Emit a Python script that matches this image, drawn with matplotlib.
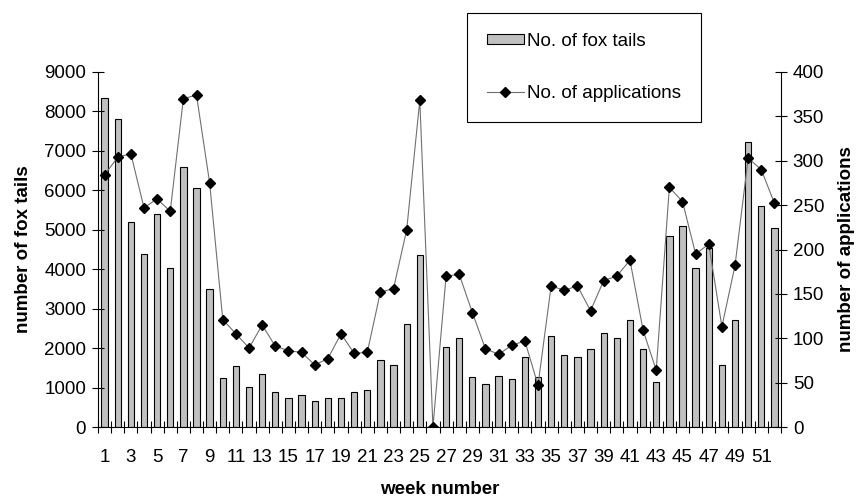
import numpy as np
import matplotlib
matplotlib.use("Agg")
import matplotlib.pyplot as plt
from matplotlib.ticker import FixedLocator, NullFormatter

# ============================================================
# Data
# ============================================================

weeks = np.arange(1, 53)

fox_tails = [
    8330, 7800, 5190, 4390, 5390, 4020, 6600, 6050, 3500, 1250,
    1545, 1010, 1335, 887, 735, 810, 660, 726, 726, 887,
    929, 1690, 1571, 2618, 4358, 0, 2019, 2264, 1258, 1090,
    1292, 1208, 1774, 1258, 2297, 1816, 1774, 1968, 2373, 2264,
    2711, 1968, 1132, 4840, 5084, 4029, 4527, 1571, 2711, 7213,
    5591, 5034,
]

applications = [
    284, 304, 308, 247, 257, 243, 370, 374, 275, 121,
    105, 89, 115, 91, 86, 84, 70, 77, 105, 83,
    84, 152, 156, 222, 368, 0, 170, 172, 129, 88,
    82, 92, 97, 47, 159, 154, 159, 131, 165, 170,
    188, 109, 64, 270, 254, 195, 206, 113, 182, 303,
    290, 252,
]

tick_labels = [str(w) for w in weeks if w % 2 == 1]

# ============================================================
# Style
# ============================================================

plt.rcParams['font.family'] = ['Liberation Sans', 'DejaVu Sans']
FS = 13.5

fig = plt.figure(figsize=(8.57, 5.0), dpi=100)
ax = fig.add_axes([98/857, 73/500, 683/857, 355/500])
ax2 = ax.twinx()

idx = np.arange(len(weeks))

bars = ax.bar(
    idx,
    fox_tails,
    width=0.48,
    color='#c0c0c0',
    edgecolor='black',
    linewidth=0.8,
    label='No. of fox tails'
)

line, = ax2.plot(
    idx,
    applications,
    color='#707070',
    lw=0.8,
    marker='D',
    markersize=5.2,
    markerfacecolor='black',
    markeredgecolor='black',
    label='No. of applications'
)

# ============================================================
# Axes
# ============================================================

ax.set_xlim(-0.5, len(weeks) - 0.5)
ax.set_ylim(0, 9000)
ax2.set_ylim(0, 400)

ax.set_yticks(np.arange(0, 9001, 1000))
ax2.set_yticks(np.arange(0, 401, 50))

odd_pos = [i for i, w in enumerate(weeks) if w % 2 == 1]
ax.set_xticks(odd_pos)
ax.set_xticklabels(tick_labels)
ax.xaxis.set_minor_locator(FixedLocator(np.arange(-0.5, len(weeks), 1.0)))
ax.xaxis.set_minor_formatter(NullFormatter())

ax.tick_params(axis='x', which='major', length=0, pad=16, labelsize=FS)
ax.tick_params(axis='x', which='minor', direction='inout', length=9, width=0.8)
ax.tick_params(axis='y', direction='inout', length=9, width=0.8, pad=4, labelsize=FS)
ax2.tick_params(axis='y', direction='inout', length=9, width=0.8, pad=4, labelsize=FS)

for a in (ax, ax2):
    a.spines['top'].set_visible(False)
    for s in ('left', 'right', 'bottom'):
        a.spines[s].set_linewidth(0.8)
ax.spines['right'].set_visible(False)
ax2.spines['left'].set_visible(False)
ax2.spines['bottom'].set_visible(False)

ax.set_xlabel('week number', fontsize=FS, fontweight='bold', labelpad=11)
ax.set_ylabel('number of fox tails', fontsize=FS, fontweight='bold', labelpad=9)
ax2.set_ylabel('number of applications', fontsize=FS, fontweight='bold', labelpad=10)

# ============================================================
# Legend
# ============================================================

leg = ax2.legend(
    [bars, line],
    ['No. of fox tails', 'No. of applications'],
    loc='upper left',
    bbox_to_anchor=(467/857, 1 - 13/500),
    bbox_transform=fig.transFigure,
    borderaxespad=0,
    fancybox=False,
    framealpha=1,
    edgecolor='black',
    fontsize=FS,
    labelspacing=1.9,
    borderpad=1.05,
    handlelength=2.0,
    handletextpad=0.15,
    handleheight=0.5,
    numpoints=1,
)
leg.get_frame().set_linewidth(0.8)

fig.savefig('out.png', dpi=100)
